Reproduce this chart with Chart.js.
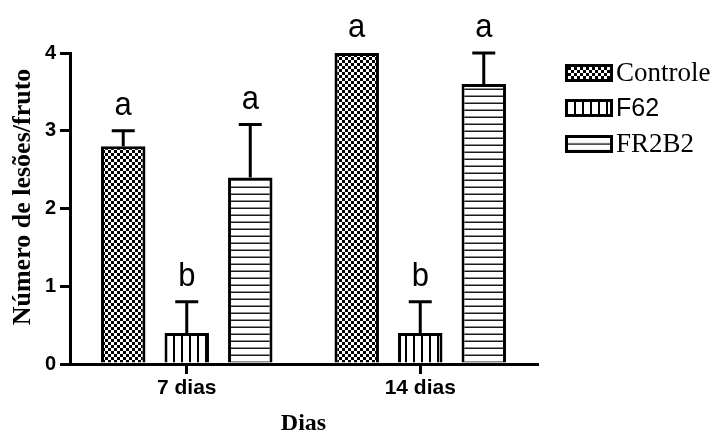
<!DOCTYPE html>
<html>
<head>
<meta charset="utf-8">
<script src="https://cdn.jsdelivr.net/npm/chart.js@4"></script>
<style>
  html, body { margin: 0; padding: 0; background: #fff; }
  #wrap { width: 716px; height: 438px; }
</style>
</head>
<body>
<div id="wrap"><canvas id="c" width="716" height="438"></canvas></div>
<script>
// Lesions per fruit, mean + error, per treatment and day
const categories = ['7 dias', '14 dias'];
const seriesNames = ['Controle', 'F62', 'FR2B2'];
const controleMeans = [2.8, 4.0];
const f62Means = [0.4, 0.4];
const fr2b2Means = [2.4, 3.6];
const controleErr = [0.2, 0];
const f62Err = [0.4, 0.4];
const fr2b2Err = [0.68, 0.4];
const controleLetters = ['a', 'a'];
const f62Letters = ['b', 'b'];
const fr2b2Letters = ['a', 'a'];
const yTicks = [0, 1, 2, 3, 4];
const xTitle = 'Dias';
const yTitle = 'Número de lesões/fruto';

const SANS = '"Liberation Sans", Arial, sans-serif';
const SERIF = '"Liberation Serif", "Times New Roman", serif';

const canvas = document.getElementById('c');
const ctx = canvas.getContext('2d');

// Hatch fills
function makeTile(w, h, draw) {
  const c = document.createElement('canvas');
  c.width = w; c.height = h;
  const g = c.getContext('2d');
  g.fillStyle = '#fff';
  g.fillRect(0, 0, w, h);
  g.fillStyle = '#000';
  draw(g);
  return ctx.createPattern(c, 'repeat');
}
const checkerFill = makeTile(6, 6, g => { g.fillRect(0, 0, 3, 3); g.fillRect(3, 3, 3, 3); });
const vLineFill = makeTile(8, 8, g => { g.fillRect(5, 0, 2, 8); });
const hLineFill = makeTile(7, 7, g => { g.fillStyle = '#1a1a1a'; g.fillRect(0, 4.5, 7, 1.5); });

const fills = [checkerFill, vLineFill, hLineFill];
const legendFonts = ['27px ' + SERIF, '25px ' + SANS, '27px ' + SERIF];
// pattern phase inside each legend swatch
const legendPhase = [[0, 0], [4, 0], [0, -3.25]];

const means = [controleMeans, f62Means, fr2b2Means];
const errs = [controleErr, f62Err, fr2b2Err];
const letters = [controleLetters, f62Letters, fr2b2Letters];

const errorBarsPlugin = {
  id: 'errorBars',
  afterDatasetsDraw(chart) {
    const c = chart.ctx;
    const y = chart.scales.y;
    c.save();
    c.strokeStyle = '#000';
    c.fillStyle = '#000';
    c.lineWidth = 3;
    c.font = '31px ' + SANS;
    c.textAlign = 'center';
    c.textBaseline = 'alphabetic';
    chart.data.datasets.forEach((ds, i) => {
      const meta = chart.getDatasetMeta(i);
      meta.data.forEach((bar, j) => {
        const top = y.getPixelForValue(means[i][j] + errs[i][j]);
        if (errs[i][j] > 0) {
          c.beginPath();
          c.moveTo(bar.x, bar.y);
          c.lineTo(bar.x, top);
          c.moveTo(bar.x - 11.5, top);
          c.lineTo(bar.x + 11.5, top);
          c.stroke();
        }
        c.save();
        c.translate(bar.x, top - 16);
        c.scale(1, 1.1);
        c.fillText(letters[i][j], 0, 0);
        c.restore();
      });
    });
    c.restore();
  }
};

const sideLegendPlugin = {
  id: 'sideLegend',
  afterDraw(chart) {
    const c = chart.ctx;
    const bx = 565, bw = 48, bh = 18;
    const centers = [73, 108, 144];
    c.save();
    seriesNames.forEach((name, i) => {
      const by = centers[i] - bh / 2;
      c.save();
      c.translate(bx + legendPhase[i][0], by + legendPhase[i][1]);
      c.fillStyle = fills[i];
      c.fillRect(-legendPhase[i][0], -legendPhase[i][1], bw, bh);
      c.restore();
      c.strokeStyle = '#000';
      c.lineWidth = 3;
      c.strokeRect(bx + 1.5, by + 1.5, bw - 3, bh - 3);
      c.fillStyle = '#000';
      c.font = legendFonts[i];
      c.textAlign = 'left';
      c.textBaseline = 'middle';
      c.fillText(name, 616, centers[i] + 1);
    });
    c.restore();
  }
};

const yTitlePlugin = {
  id: 'yTitle',
  afterDraw(chart) {
    const c = chart.ctx;
    c.save();
    c.translate(23, 197);
    c.rotate(-Math.PI / 2);
    c.fillStyle = '#000';
    c.font = 'bold 26px ' + SERIF;
    c.textAlign = 'center';
    c.textBaseline = 'middle';
    c.fillText(yTitle, 0, 0);
    c.restore();
  }
};

new Chart(ctx, {
  type: 'bar',
  data: {
    labels: categories,
    datasets: seriesNames.map((name, i) => ({
      label: name,
      data: means[i],
      backgroundColor: fills[i],
      borderColor: '#000',
      borderWidth: { top: 3, left: 3, right: 3, bottom: 0 },
      borderSkipped: false,
      categoryPercentage: 0.816,
      barPercentage: 0.70
    }))
  },
  options: {
    responsive: false,
    animation: false,
    devicePixelRatio: 1,
    layout: { padding: { left: 0, top: 53, right: 179, bottom: 0 } },
    plugins: { legend: { display: false }, tooltip: { enabled: false } },
    scales: {
      x: {
        afterFit(s) { s.height = 74; },
        grid: { display: true, offset: false, drawOnChartArea: false, drawTicks: true, tickLength: 10, lineWidth: 3, color: '#000' },
        border: { display: true, width: 3, color: '#000' },
        ticks: { color: '#000', padding: 2, font: { family: SANS, size: 21, weight: 'bold' } },
        title: { display: true, text: xTitle, color: '#000', padding: { top: 0, bottom: 0 },
                 font: { family: SERIF, size: 24, weight: 'bold' } }
      },
      y: {
        min: 0, max: 4,
        afterFit(s) { s.width = 70; },
        afterBuildTicks(s) { s.ticks = yTicks.map(v => ({ value: v })); },
        grid: { display: true, drawOnChartArea: false, drawTicks: true, tickLength: 10, lineWidth: 3, color: '#000' },
        border: { display: true, width: 3, color: '#000' },
        ticks: { color: '#000', padding: 4, font: { family: SANS, size: 20, weight: 'bold' } }
      }
    }
  },
  plugins: [errorBarsPlugin, sideLegendPlugin, yTitlePlugin]
});
</script>
</body>
</html>
